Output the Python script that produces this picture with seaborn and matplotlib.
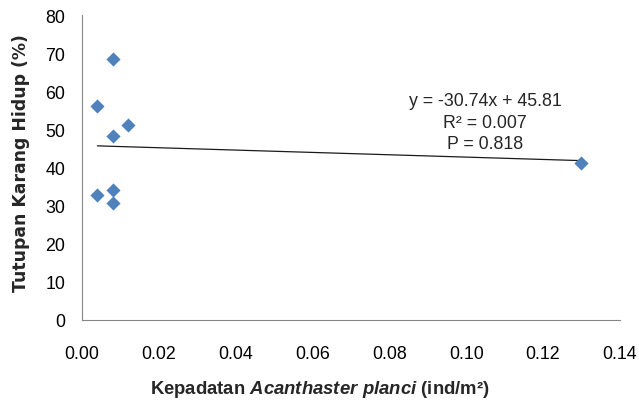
import numpy as np
import pandas as pd
import matplotlib
matplotlib.use("Agg")
import matplotlib.pyplot as plt
import seaborn as sns

# -----------------------------
# DATA
# -----------------------------
density = [0.004, 0.008, 0.008, 0.012, 0.004, 0.008, 0.008, 0.130]
coral_cover = [56.1, 68.4, 48.3, 51.1, 32.8, 34.1, 30.8, 41.3]

slope = -30.74
intercept = 45.81
r_squared = 0.007
p_value = 0.818

x_ticks = [0.00, 0.02, 0.04, 0.06, 0.08, 0.10, 0.12, 0.14]
y_ticks = [0, 10, 20, 30, 40, 50, 60, 70, 80]

df = pd.DataFrame({"density": density, "cover": coral_cover})

# -----------------------------
# STYLE
# -----------------------------
sns.set_style("white")
plt.rcParams["font.family"] = ["Liberation Sans", "DejaVu Sans"]
plt.rcParams["mathtext.fontset"] = "custom"
plt.rcParams["mathtext.rm"] = "Liberation Sans:bold"
plt.rcParams["mathtext.it"] = "Liberation Sans:bold:italic"

axis_grey = "#868686"

fig = plt.figure(figsize=(6.39, 4.02), dpi=100)
ax = fig.add_axes([0.1283, 0.2015, 0.8417, 0.7585])

# trendline from the stated equation
line_x = np.array([min(density), max(density)])
trend = pd.DataFrame({"x": line_x, "y": slope * line_x + intercept})
sns.lineplot(data=trend, x="x", y="y", ax=ax, color="#1a1a1a", linewidth=0.9)

sns.scatterplot(data=df, x="density", y="cover", ax=ax, marker="D",
                s=52, color="#4F81BD", linewidth=0, zorder=3)

ax.set_xlim(0, 0.14)
ax.set_ylim(0, 80)
ax.set_xticks(x_ticks)
ax.set_yticks(y_ticks)
ax.set_xticklabels([f"{v:.2f}" for v in x_ticks])
ax.set_yticklabels([str(v) for v in y_ticks])
ax.tick_params(axis="both", direction="out", length=5, width=0.8,
               color=axis_grey, labelsize=12.8, labelcolor="black")
ax.tick_params(axis="x", pad=13)
ax.tick_params(axis="y", pad=7)

for side in ["top", "right"]:
    ax.spines[side].set_visible(False)
for side in ["left", "bottom"]:
    ax.spines[side].set_color(axis_grey)
    ax.spines[side].set_linewidth(0.8)

ax.set_xlabel("")
ax.set_ylabel("")

fig.text(320 / 639, 1 - 390 / 402,
         r"Kepadatan $\mathit{Acanthaster\ planci}$ (ind/m²)",
         ha="center", va="center", fontsize=13.3, fontweight="bold")
fig.text(21 / 639, 1 - 163 / 402, "Tutupan Karang Hidup (%)",
         rotation=90, ha="center", va="center", fontsize=12.4,
         fontweight="bold", family="DejaVu Sans")

ax.text(0.105, 51.9,
        f"y = {slope:.2f}x + {intercept:.2f}\nR² = {r_squared:.3f}\nP = {p_value:.3f}",
        ha="center", va="center", fontsize=12.8, linespacing=1.35)

plt.savefig("out.png", dpi=100)
plt.close()
